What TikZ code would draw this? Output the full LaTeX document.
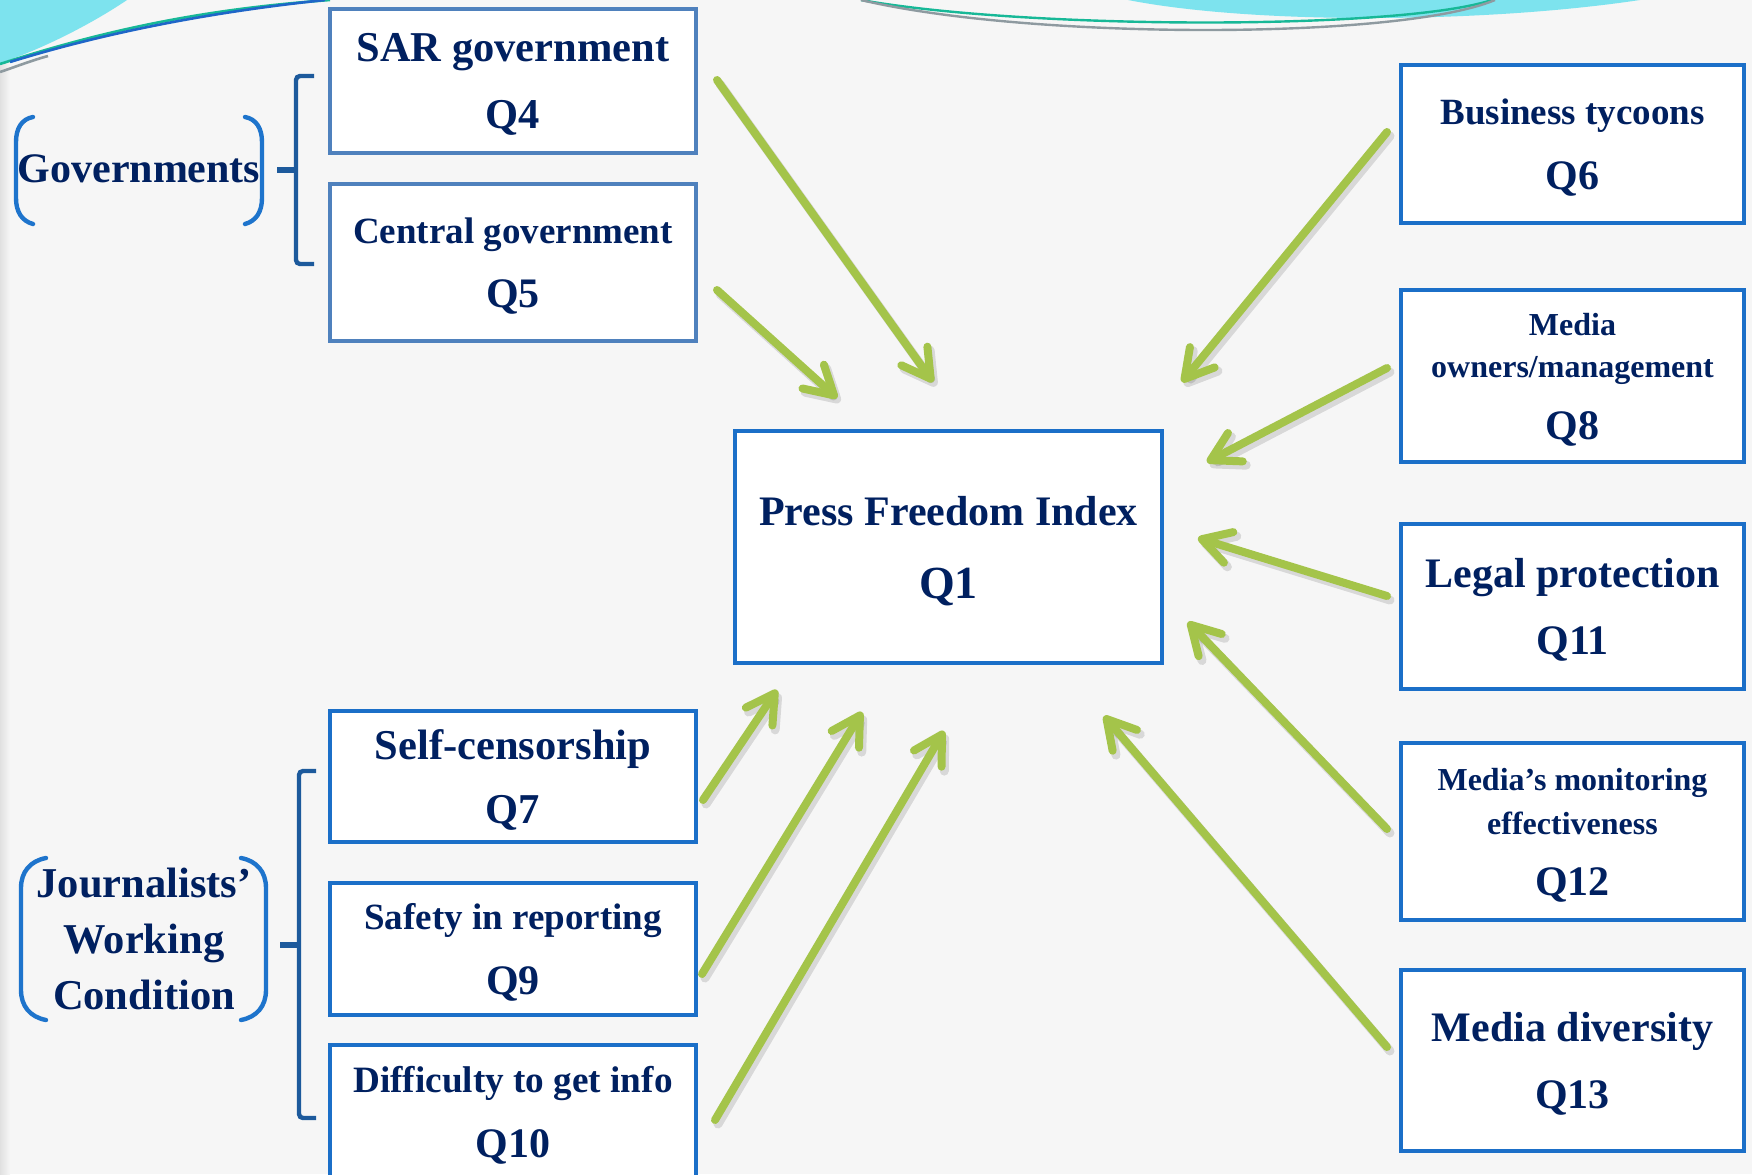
\documentclass[tikz,border=0pt]{standalone}
\usepackage{fontspec}
\setmainfont{Liberation Serif}
\usetikzlibrary{arrows.meta}
\definecolor{navy}{HTML}{002060}
\definecolor{boxblue}{HTML}{1B6FC8}
\definecolor{steel}{HTML}{4F81BD}
\definecolor{brk}{HTML}{1E74CC}
\definecolor{bracecol}{HTML}{1D5A9C}
\definecolor{agreen}{HTML}{A4C44A}
\definecolor{cyanfill}{HTML}{7DE3EE}
\definecolor{bg}{HTML}{F6F6F6}
\definecolor{tealline}{HTML}{17B897}
\definecolor{blueline}{HTML}{1F66C8}
\definecolor{grayline}{HTML}{8E9AA0}
\newcommand\myfs[2]{\fontsize{#1}{#2}\selectfont}
\begin{document}
\begin{tikzpicture}[x=0.5pt,y=-0.5pt,
  box/.style={draw=boxblue, line width=2.2pt, fill=white, inner sep=0pt, align=center, text=navy, text depth=0pt},
  sbox/.style={box, draw=steel, line width=2pt},
  dims/.style 2 args={minimum width=#1, minimum height=#2},
  txt/.style={text=navy, align=center, inner sep=0pt},
  arr/.style={draw=agreen, line width=4pt, line cap=round,
    -{Straight Barb[length=14pt,width=16pt,line cap=round,line join=round]}},
  arrsh/.style={draw=black, opacity=0.12, line width=4.5pt, line cap=round,
    transform canvas={shift={(1.5pt,-2pt)}},
    -{Straight Barb[length=14pt,width=16pt,line cap=round,line join=round]}},
  bracket/.style={draw=brk, line width=2.2pt, line cap=round},
  bracestyle/.style={draw=bracecol, line width=2.2pt, rounded corners=2pt},
]
\useasboundingbox (0,0) rectangle (1752,1174);
\clip (0,0) rectangle (1752,1174);
\fill[bg] (0,0) rectangle (1752,1174);
\shade[left color=black!12, right color=bg] (0,0) rectangle (10,1174);

% top decorations
\fill[cyanfill] (0,0) -- (127,0) .. controls (90,25) and (40,50) .. (0,63) -- cycle;
\draw[tealline, line width=1.3pt] (0,64) .. controls (120,25) and (220,8) .. (330,0);
\draw[blueline, line width=1.3pt] (10,62) .. controls (120,28) and (230,10) .. (325,0);
\draw[grayline, line width=1.3pt] (0,72) .. controls (15,67) and (30,61) .. (48,56);
\fill[cyanfill] (1128,0) .. controls (1250,24) and (1480,24) .. (1640,0) -- cycle;
\draw[tealline, line width=1.2pt] (861,0) .. controls (1030,30) and (1400,30) .. (1492,0);
\draw[grayline, line width=1.2pt] (861,0) .. controls (1030,40) and (1400,40) .. (1495,0);

% braces
\draw[bracestyle] (314,76) -- (296,76) -- (296,264) -- (314,264);
\draw[bracecol, line width=2.6pt] (277,170) -- (296,170);
\draw[bracestyle] (316,771) -- (299,771) -- (299,1118) -- (316,1118);
\draw[bracecol, line width=2.6pt] (280,945) -- (299,945);

% rounded brackets
\draw[bracket] (33,117) .. controls (22,119) and (16,128) .. (16,142) -- (16,198) .. controls (16,212) and (22,221) .. (33,224);
\draw[bracket] (245,117) .. controls (256,119) and (262,128) .. (262,142) -- (262,198) .. controls (262,212) and (256,221) .. (245,224);
\draw[bracket] (46,858) .. controls (30,861) and (21,872) .. (21,888) -- (21,990) .. controls (21,1006) and (30,1017) .. (46,1020);
\draw[bracket] (241,858) .. controls (257,861) and (266,872) .. (266,888) -- (266,990) .. controls (266,1006) and (257,1017) .. (241,1020);

\node[txt, font=\bfseries\myfs{21}{25}] (gov) at (139,169) {Governments};
\node[txt, font=\bfseries\myfs{21.25}{28}] (jwc) at (144,939) {Journalists’\\Working\\Condition};

% arrow end points
\coordinate (t1) at (717,80);   \coordinate (h1) at (933,382);
\coordinate (t2) at (717,290);  \coordinate (h2) at (837,398);
\coordinate (t3) at (1387,132); \coordinate (h3) at (1182,382);
\coordinate (t4) at (1387,368); \coordinate (h4) at (1207,462);
\coordinate (t5) at (1387,596); \coordinate (h5) at (1198,538);
\coordinate (t6) at (1387,829); \coordinate (h6) at (1188,622);
\coordinate (t7) at (1387,1047);\coordinate (h7) at (1104,716);
\coordinate (t8) at (703,800);  \coordinate (h8) at (777,690);
\coordinate (t9) at (702,974);  \coordinate (h9) at (862,712);
\coordinate (t10) at (715,1120);\coordinate (h10) at (944,731);

\foreach \i in {1,...,10} {\draw[arrsh] (t\i) -- (h\i);}
\foreach \i in {1,...,10} {\draw[arr] (t\i) -- (h\i);}

% boxes
\node[sbox, dims={183pt}{72pt}, font=\bfseries\myfs{21.25}{33.5}] (sar) at (513,81) {SAR government\\Q4};
\node[sbox, dims={183pt}{78.5pt}, font=\bfseries\myfs{18.5}{32}] (cen) at (513,262.5) {Central government\\{\myfs{21}{32}Q5}};
\node[box, dims={183pt}{65.5pt}, font=\bfseries\myfs{21.25}{32}] (sc) at (513,776.5) {Self-censorship\\Q7};
\node[box, dims={183pt}{66pt}, font=\bfseries\myfs{18.5}{32.5}] (saf) at (513,949) {Safety in reporting\\{\myfs{21}{32.5}Q9}};
\node[box, dims={183pt}{66.5pt}, font=\bfseries\myfs{18.6}{32.5}] (dif) at (513,1111.5) {Difficulty to get info\\{\myfs{21}{32.5}Q10}};
\node[box, dims={213.5pt}{116pt}, font=\bfseries\myfs{21}{36.5}] (pfi) at (948.5,547) {Press Freedom Index\\{\myfs{23}{36.5}Q1}};
\node[box, dims={171.5pt}{79pt}, font=\bfseries\myfs{18.5}{32.5}] (bus) at (1572.5,144) {Business tycoons\\{\myfs{21}{32.5}Q6}};
\node[box, dims={171.5pt}{86pt}, font=\bfseries\myfs{16}{21}] (own) at (1572.5,376) {Media\\owners/management\\[10pt]{\myfs{21}{21}Q8}};
\node[box, dims={171.5pt}{82.5pt}, font=\bfseries\myfs{21}{33.5}] (leg) at (1572.5,606.5) {Legal protection\\Q11};
\node[box, dims={171.5pt}{88.5pt}, font=\bfseries\myfs{16}{22}] (mon) at (1572.5,831.5) {Media’s monitoring\\effectiveness\\[8.5pt]{\myfs{21}{22}Q12}};
\node[box, dims={171.5pt}{90.5pt}, font=\bfseries\myfs{21}{33.5}] (div) at (1572.5,1060.5) {Media diversity\\Q13};
\end{tikzpicture}
\end{document}
